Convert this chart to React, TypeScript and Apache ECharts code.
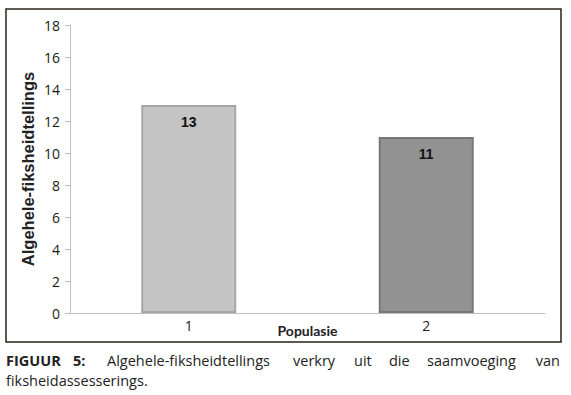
import React, { useEffect, useRef } from "react";
import * as echarts from "echarts";

const categories = ["1", "2"];
const values = [13, 11];
const barColors = ["#c4c4c4", "#929292"];
const barBorders = ["#a6a6a6", "#777777"];
const yTicks = { min: 0, max: 18, interval: 2 };
const yTitle = "Algehele-fiksheidtellings";
const xTitle = "Populasie";
const captionLine1 = [
  { t: "FIGUUR", x: 6, bold: true, align: "left" },
  { t: "5:", x: 73, bold: true, align: "left" },
  { t: "Algehele-fiksheidtellings", x: 107, bold: false, align: "left" },
  { t: "verkry", x: 293, bold: false, align: "left" },
  { t: "uit", x: 354, bold: false, align: "left" },
  { t: "die", x: 389, bold: false, align: "left" },
  { t: "saamvoeging", x: 427, bold: false, align: "left" },
  { t: "van", x: 560, bold: false, align: "right" },
];
const captionLine2 = "fiksheidassesserings.";

const CAP_FONT = "'Open Sans', sans-serif";
const TICK_FONT = "'Open Sans', sans-serif";
const TITLE_FONT = "'Liberation Sans', Arial, sans-serif";

export default function App() {
  const ref = useRef<HTMLDivElement>(null);
  useEffect(() => {
    if (!ref.current) return;
    const chart = echarts.init(ref.current, undefined, { renderer: "svg" });
    const captionEls: any[] = captionLine1.map((w) => ({
      type: "text",
      x: w.x,
      y: 360,
      style: {
        text: w.t,
        font: `${w.bold ? "bold " : ""}14.5px ${CAP_FONT}`,
        lineHeight: 15,
        fill: "#222",
        align: w.align,
        verticalAlign: "middle",
      },
    }));
    captionEls.push({
      type: "text",
      x: 6,
      y: 380,
      style: {
        text: captionLine2,
        font: `14.5px ${CAP_FONT}`,
        lineHeight: 15,
        fill: "#222",
        align: "left",
        verticalAlign: "middle",
      },
    });
    chart.setOption({
      animation: false,
      backgroundColor: "#ffffff",
      grid: { left: 70, right: 26, top: 25, bottom: 82 },
      xAxis: {
        type: "category",
        data: categories,
        name: xTitle,
        nameLocation: "middle",
        nameGap: 10,
        nameMoveOverlap: false,
        nameTextStyle: { fontFamily: "Lato, sans-serif", fontWeight: "bold", fontSize: 14, color: "#222" },
        axisLine: { lineStyle: { color: "#bfbfbf" } },
        axisTick: { lineStyle: { color: "#bfbfbf" }, length: 5 },
        axisLabel: { fontFamily: TICK_FONT, fontSize: 14, color: "#222", margin: 5 },
      },
      yAxis: {
        type: "value",
        min: yTicks.min,
        max: yTicks.max,
        interval: yTicks.interval,
        name: yTitle,
        nameLocation: "middle",
        nameGap: 34,
        nameMoveOverlap: false,
        nameTextStyle: { fontFamily: TITLE_FONT, fontWeight: "bold", fontSize: 16.5, color: "#222" },
        axisLine: { show: true, lineStyle: { color: "#bfbfbf" } },
        axisTick: { show: true, lineStyle: { color: "#bfbfbf" }, length: 5 },
        splitLine: { show: false },
        axisLabel: { fontFamily: TICK_FONT, fontSize: 14, color: "#1a1a1a", margin: 10 },
      },
      series: [
        {
          type: "bar",
          barWidth: "40%",
          data: values.map((v, i) => ({
            value: v,
            itemStyle: {
              color: barColors[i],
              borderColor: barBorders[i],
              borderWidth: 2,
            },
          })),
          label: {
            show: true,
            position: "insideTop",
            distance: 10,
            fontFamily: "'Liberation Sans', Arial, sans-serif",
            fontWeight: "bold",
            fontSize: 14,
            color: "#111",
          },
        },
      ],
      graphic: [
        {
          type: "rect",
          shape: { x: 6, y: 9, width: 555, height: 333 },
          style: { fill: "none", stroke: "#2b2318", lineWidth: 1.5 },
          silent: true,
        },
        ...captionEls,
      ],
    });
    return () => chart.dispose();
  }, []);
  return (
    <div
      ref={ref}
      style={{ position: "fixed", left: 0, top: 0, width: 571, height: 395 }}
    />
  );
}
